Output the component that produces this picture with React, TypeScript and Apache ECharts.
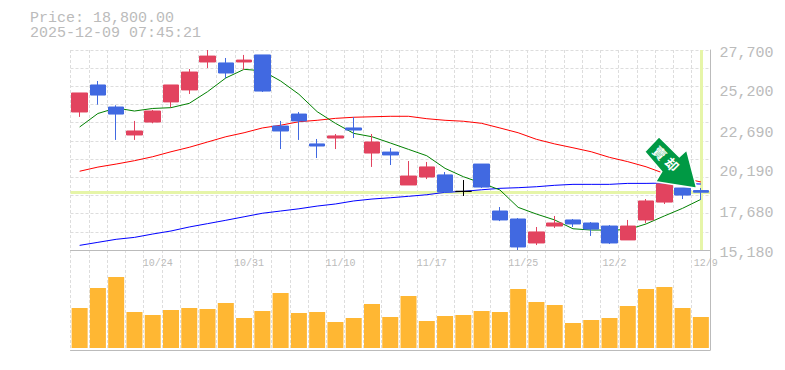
import React, { useEffect, useRef } from "react";
import * as echarts from "echarts";

const dates = ["10/20","10/21","10/22","10/23","10/24","10/27","10/28","10/29","10/30","10/31","11/4","11/5","11/6","11/7","11/10","11/11","11/12","11/13","11/14","11/17","11/18","11/19","11/20","11/21","11/25","11/26","11/27","11/28","12/1","12/2","12/3","12/4","12/5","12/8","12/9"];
const opens = [23820,25510,24130,22380,23190,24450,25200,26950,26890,26950,27390,22940,23690,21820,22190,22820,21250,21310,19250,19750,19880,18850,20560,17620,17120,15620,16680,17060,16870,16680,15810,17060,18180,19060,18900];
const closes = [25010,24880,23690,22630,23880,25510,26320,27320,26260,27070,25130,22630,23260,21690,22320,22690,21940,21130,19810,20380,18810,18850,19120,17060,15370,16310,16870,16810,16490,15620,16680,18250,19310,18620,18800];
const lows = [23510,24280,22070,22070,23110,24110,24950,26570,25930,26450,25070,21500,22070,20940,21500,22190,20380,20500,19250,19620,18750,18560,19060,16990,15180,15490,16560,16620,16060,15560,15810,16870,18060,18370,18310];
const highs = [25010,25760,24240,23260,23950,25510,26510,27700,27200,27390,27390,23260,23820,22130,22440,23500,22440,21560,20750,20690,20060,19560,20560,17870,17180,16620,17310,17120,16930,16740,17060,18370,19310,19060,19060];
const maShort = [22880,23725,24070,23880,24040,24090,24360,25090,25950,26490,26400,25760,24930,23840,23110,22480,22270,21880,21480,21080,20290,19770,19370,18940,17850,17430,17060,16510,16430,16430,16450,16810,17310,17790,18350];
const maMid = [20110,20370,20560,20770,21020,21330,21610,21940,22270,22520,22820,22990,23210,23300,23420,23490,23520,23550,23550,23400,23300,23240,23110,22820,22520,22110,21820,21580,21330,20980,20710,20390,19970,19690,19440];
const maLong = [15470,15660,15850,15970,16180,16370,16620,16830,17040,17260,17480,17620,17760,17930,18060,18250,18370,18450,18540,18640,18790,18850,18950,19040,19080,19140,19230,19290,19290,19290,19350,19350,19370,19340,19310];
const volumes = [40,60,71,36,33,38,40,39,45,30,37,55,35,36,26,30,44,31,52,27,32,33,37,36,59,46,43,25,28,30,42,59,61,40,31];
const priceLabels = [15180,17680,20190,22690,25200,27700];
const gridValues = [15180,16318,17456,18595,19733,20871,22009,23147,24285,25424,26562,27700];
const currentPrice = 18800;
const lastDate = "12/9";
const headerLines = ["Price: 18,800.00", "2025-12-09 07:45:21"];
const signalChars = ["賣", "却"];

const GRAY = "#bbbbbb";
const GRID = "#dddddd";
const MONO = "'Liberation Mono', monospace";
const PALE = "#e6f5a8";
const RED = "#e2435f";
const BLUE = "#4169e1";

const dashed = { show: true, lineStyle: { color: GRID, type: [3, 2] as any, width: 1 } };

export default function App() {
  const ref = useRef<HTMLDivElement>(null);
  useEffect(() => {
    document.body.style.margin = "0";
    const chart = echarts.init(ref.current!, undefined, { renderer: "svg" });
    const candles = dates.map((_, i) => {
      const value = [opens[i], closes[i], lows[i], highs[i]];
      return opens[i] === closes[i]
        ? { value, itemStyle: { color: "#000", color0: "#000", borderColor: "#000", borderColor0: "#000", borderColorDoji: "#000" } }
        : { value };
    });
    const line = (data: number[], color: string) => ({
      type: "line", data, z: 2, symbol: "none", silent: true,
      lineStyle: { color, width: 1 },
    });
    chart.setOption({
      animation: false,
      grid: [
        { left: 70.5, right: 75, top: 50, height: 200 },
        { left: 70.5, right: 75, top: 250, height: 100 },
      ],
      xAxis: [
        {
          type: "category", gridIndex: 0, data: dates, boundaryGap: true,
          axisLine: { onZero: false, lineStyle: { color: GRAY } },
          axisTick: { show: false, interval: 0 },
          splitLine: { ...dashed, interval: 0 },
          axisLabel: {
            interval: (i: number) => i % 5 === 4,
            color: GRAY, fontFamily: MONO, fontSize: 10, margin: 8,
            align: "center", padding: [0, 0, 0, 10], hideOverlap: false,
          },
        },
        {
          type: "category", gridIndex: 1, data: dates, boundaryGap: true,
          axisLine: { onZero: false, lineStyle: { color: GRAY } },
          axisTick: { show: false, interval: 0 },
          splitLine: { ...dashed, interval: 0 },
          axisLabel: { show: false },
        },
      ],
      yAxis: [
        {
          type: "value", gridIndex: 0, position: "right", min: 15180, max: 27700, scale: true,
          axisLine: { show: true, lineStyle: { color: GRAY } },
          axisTick: { show: false, customValues: gridValues },
          splitLine: dashed,
          axisLabel: {
            customValues: priceLabels, color: GRAY, fontFamily: MONO, fontSize: 15, margin: 9.5,
            verticalAlign: "top", lineHeight: 6,
            formatter: (v: number) => v.toLocaleString("en-US"),
          },
        },
        {
          type: "value", gridIndex: 1, position: "right", min: -2, max: 98,
          axisLine: { show: true, lineStyle: { color: GRAY } },
          axisTick: { show: false }, splitLine: { show: false }, axisLabel: { show: false },
        },
      ],
      series: [
        {
          type: "line", data: [], z: 1, silent: true, symbol: "none",
          markLine: {
            z: 1, silent: true, symbol: "none", label: { show: false },
            lineStyle: { color: PALE, width: 3, type: "solid" },
            data: [{ yAxis: currentPrice }, { xAxis: lastDate }],
          },
        },
        line(maLong, "#0000ff"),
        line(maMid, "#ff0000"),
        line(maShort, "#008000"),
        {
          type: "candlestick", data: candles, z: 3, barWidth: 16, clip: false,
          itemStyle: { color: RED, borderColor: RED, color0: BLUE, borderColor0: BLUE, borderWidth: 1 },
        },
        {
          type: "bar", xAxisIndex: 1, yAxisIndex: 1, data: volumes, barWidth: 16,
          itemStyle: { color: "#ffb733" },
        },
      ],
      graphic: [
        {
          type: "text", x: 30, y: 10.5,
          style: { text: headerLines.join("\n"), fill: GRAY, font: `15px ${MONO}`, lineHeight: 15, verticalAlign: "top" },
        },
        {
          type: "polygon", z: 50,
          shape: { points: [[659, 136.7], [644.7, 151.7], [661.7, 171.7], [655.7, 181.7], [696.7, 188.3], [686.7, 150], [679.3, 156.7]] },
          style: { fill: "#009944", stroke: "#ffffff", lineWidth: 1.5 },
        },
        ...signalChars.map((text, i) => ({
          type: "text", z: 51, x: 660 + i * 12.3, y: 152.7 + i * 11.6, rotation: -Math.PI / 4,
          style: { text, fill: "#ffffff", font: "bold 13px 'Noto Sans CJK JP'", align: "center", verticalAlign: "middle" },
        })),
      ],
    });
    return () => chart.dispose();
  }, []);
  return <div ref={ref} style={{ width: 785, height: 370 }} />;
}
